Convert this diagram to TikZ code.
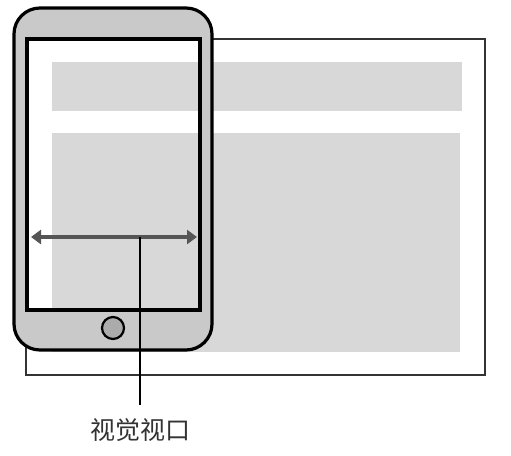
\documentclass[tikz,border=0pt]{standalone}
\usepackage{fontspec}
\newfontfamily\cjk{Noto Sans CJK SC}
\usetikzlibrary{arrows.meta}
\definecolor{content}{HTML}{D8D8D8}
\definecolor{bezel}{HTML}{C9C9C9}
\definecolor{arrowgray}{HTML}{555555}
\tikzset{
  pageframe/.style={draw=black!80, line width=2pt, fill=white},
  block/.style={fill=content, draw=none},
  phoneline/.style={draw=black, line width=3.2pt},
  leader/.style={draw=black, line width=1.3pt},
  label/.style={font=\cjk\fontsize{25}{25}\selectfont, text=black!80, inner sep=0pt},
}
\begin{document}
\begin{tikzpicture}[x=1pt,y=-1pt]
\useasboundingbox (0,0) rectangle (511,455);
% page
\draw[pageframe] (26,39) rectangle (485,375);
\fill[block] (52,62) rectangle (462,111);
\fill[block] (52,133) rectangle (460,352);
% phone bezel (screen area left open)
\fill[bezel, even odd rule] [rounded corners=26pt] (14,8) rectangle (212,350)
  [sharp corners] (27,39) rectangle (200,310);
\draw[phoneline, rounded corners=26pt] (14,8) rectangle (212,350);
\draw[phoneline] (27,39) rectangle (200,310);
% home button
\node[circle, draw=black, line width=2.2pt, fill=bezel!85!black, minimum size=22pt, inner sep=0pt] (home) at (113,328) {};
% arrow
\coordinate (al) at (31,237);
\coordinate (ar) at (197,237);
\coordinate (am) at (140,237);
\draw[draw=arrowgray, line width=4pt, {Triangle[length=10pt,width=14pt]}-{Triangle[length=10pt,width=14pt]}] (al) -- (ar);
% label
\node[label] (lbl) at (140,430) {视觉视口};
\draw[leader, shorten >=13pt] (am) -- (lbl.north);
\end{tikzpicture}
\end{document}
